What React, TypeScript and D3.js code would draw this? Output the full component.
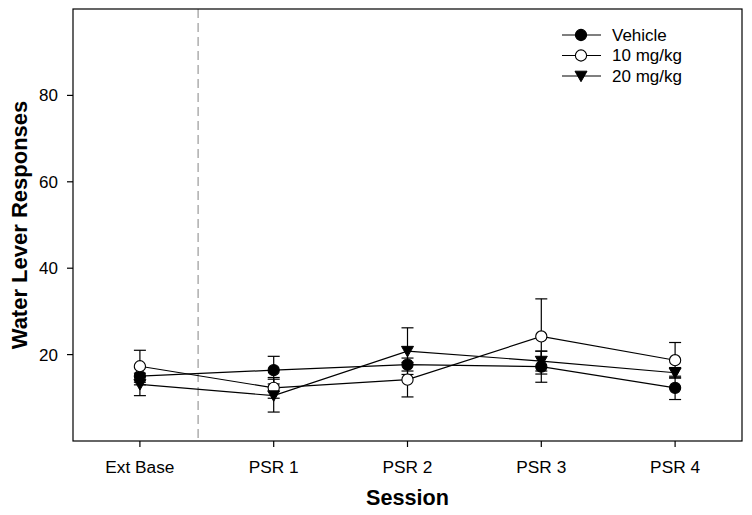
import React from "react";
import * as d3 from "d3";

const sessions = ["Ext Base", "PSR 1", "PSR 2", "PSR 3", "PSR 4"];
const vehicleMean = [15.0, 16.4, 17.7, 17.2, 12.3];
const vehicleErr = [2.0, 3.2, 1.5, 3.6, 2.7];
const mg10Mean = [17.3, 12.3, 14.2, 24.2, 18.7];
const mg10Err = [3.7, 2.4, 4.0, 8.7, 4.1];
const mg20Mean = [13.1, 10.5, 20.8, 18.5, 15.8];
const mg20Err = [2.6, 3.8, 5.4, 2.3, 1.2];
const yTicks = [20, 40, 60, 80];
const seriesNames = ["Vehicle", "10 mg/kg", "20 mg/kg"];

const W = 752, H = 515;
const M = { left: 73, right: 10, top: 9, bottom: 74 };
const FONT = "Liberation Sans, Arial, sans-serif";

export default function App() {
  const x = d3.scalePoint<string>().domain(sessions).range([M.left, W - M.right]).padding(0.5);
  const y = d3.scaleLinear().domain([0, 100]).range([H - M.bottom, M.top]);
  const step = x.step();
  const dashX = (x(sessions[0]) as number) + step * 0.435;

  const series = [
    { name: seriesNames[0], mean: vehicleMean, err: vehicleErr, shape: "filledCircle" },
    { name: seriesNames[1], mean: mg10Mean, err: mg10Err, shape: "openCircle" },
    { name: seriesNames[2], mean: mg20Mean, err: mg20Err, shape: "triangle" },
  ];

  const line = d3.line<number>().x((_, i) => x(sessions[i]) as number).y((d) => y(d));

  const marker = (shape: string, cx: number, cy: number, key: string) => {
    if (shape === "triangle") {
      const s = 6;
      return <path key={key} d={`M${cx - s},${cy - s * 0.8} L${cx + s},${cy - s * 0.8} L${cx},${cy + s * 0.95} Z`} fill="#000" stroke="#000" strokeWidth={1} />;
    }
    return <circle key={key} cx={cx} cy={cy} r={5.6} fill={shape === "openCircle" ? "#fff" : "#000"} stroke="#000" strokeWidth={1.1} />;
  };

  const legendX = 562;
  const legendY = [35, 55.5, 76];

  return (
    <svg width={W} height={H} style={{ position: "absolute", left: 0, top: 0, background: "#fff" }} fontFamily={FONT}>
      <rect x={0} y={0} width={W} height={H} fill="#fff" />
      {/* dashed separator */}
      <line x1={dashX} x2={dashX} y1={M.top} y2={H - M.bottom} stroke="#999" strokeWidth={1.2} strokeDasharray="9,5" />
      {/* frame */}
      <rect x={M.left} y={M.top} width={W - M.left - M.right} height={H - M.top - M.bottom} fill="none" stroke="#000" strokeWidth={1.2} />
      {/* y ticks */}
      {yTicks.map((t) => (
        <g key={t}>
          <line x1={M.left - 6} x2={M.left} y1={y(t)} y2={y(t)} stroke="#000" strokeWidth={1.2} />
          <text x={58} y={y(t)} dy="0.35em" textAnchor="end" fontSize={17} fill="#000">{t}</text>
        </g>
      ))}
      {/* x ticks */}
      {sessions.map((s) => (
        <g key={s}>
          <line x1={x(s)} x2={x(s)} y1={H - M.bottom} y2={H - M.bottom + 6} stroke="#000" strokeWidth={1.2} />
          <text x={x(s)} y={H - M.bottom + 32} textAnchor="middle" fontSize={17.3} fill="#000">{s}</text>
        </g>
      ))}
      <text x={(M.left + W - M.right) / 2} y={505} textAnchor="middle" fontSize={21.6} fontWeight="bold" fill="#000">Session</text>
      <text transform={`translate(27,${(M.top + H - M.bottom) / 2}) rotate(-90)`} textAnchor="middle" fontSize={22} fontWeight="bold" fill="#000">Water Lever Responses</text>
      {/* lines */}
      {series.map((s) => (
        <path key={s.name + "l"} d={line(s.mean) || ""} fill="none" stroke="#000" strokeWidth={1.2} />
      ))}
      {/* error bars */}
      {series.map((s) =>
        s.mean.map((m, i) => {
          const cx = x(sessions[i]) as number;
          const hi = y(m + s.err[i]);
          const lo = y(m - s.err[i]);
          return (
            <g key={s.name + "e" + i} stroke="#000" strokeWidth={1.2}>
              <line x1={cx} x2={cx} y1={hi} y2={lo} />
              <line x1={cx - 6} x2={cx + 6} y1={hi} y2={hi} />
              <line x1={cx - 6} x2={cx + 6} y1={lo} y2={lo} />
            </g>
          );
        })
      )}
      {/* markers */}
      {series.map((s) => s.mean.map((m, i) => marker(s.shape, x(sessions[i]) as number, y(m), s.name + "m" + i)))}
      {/* legend */}
      {series.map((s, i) => (
        <g key={s.name + "leg"}>
          <line x1={legendX} x2={legendX + 39} y1={legendY[i]} y2={legendY[i]} stroke="#000" strokeWidth={1.2} />
          {marker(s.shape, legendX + 19, legendY[i], s.name + "legm")}
          <text x={legendX + 50} y={legendY[i]} dy="0.35em" fontSize={17} fill="#000">{s.name}</text>
        </g>
      ))}
    </svg>
  );
}
